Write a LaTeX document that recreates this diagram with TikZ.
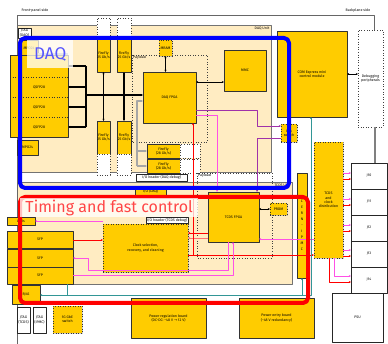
\documentclass[tikz,border=0pt]{standalone}
\usepackage{fontspec}
\setmainfont{Fira Sans}
\newfontfamily\symfont{DejaVu Sans}
\usetikzlibrary{shadows,arrows.meta}
\definecolor{gold}{RGB}{255,204,0}
\definecolor{beige}{RGB}{255,236,194}
\definecolor{lila}{RGB}{160,50,170}
\definecolor{rosa}{RGB}{255,80,230}
\definecolor{petrol}{RGB}{50,150,150}
\definecolor{daqblue}{RGB}{85,85,255}
\definecolor{tfcred}{RGB}{255,70,70}
\begin{document}
\begin{tikzpicture}[x=1pt,y=-1pt,>={Stealth[length=2.2pt,width=2pt]}, line join=round,
	font=\fontsize{3.6}{4.2}\selectfont,
	chip/.style={draw=black!80, fill=gold, line width=0.5pt, inner sep=0pt, outer sep=0pt, anchor=north west, align=center,
		drop shadow={shadow xshift=0.8pt, shadow yshift=-0.8pt, opacity=0.35}},
	dchip/.style={chip, dotted, line width=0.6pt},
	spare/.style={draw=black!75, dotted, line width=0.6pt, fill=white, inner sep=0pt, outer sep=0pt, anchor=north west, align=center},
	wbox/.style={draw=black!85, line width=0.6pt, fill=white, inner sep=0pt, outer sep=0pt, anchor=north west, align=center},
	unit/.style={draw=black!55, fill=beige, line width=0.6pt, inner sep=0pt, outer sep=0pt, anchor=north west},
	payload/.style={draw=black!75, dotted, line width=0.6pt},
	blk/.style={line width=1.2pt},
	gry/.style={draw=black!35, line width=1.2pt},
	lil/.style={draw=lila, line width=0.6pt},
	ros/.style={draw=rosa, line width=0.8pt},
	rd/.style={draw=red, line width=0.5pt}]
	\useasboundingbox (0,0) rectangle (388,344);
	% units and frame
	\node[unit, minimum width=254, minimum height=147] (daqunit) at (17,25) {};
	\node[anchor=north east, inner sep=1.5] at (daqunit.north east) {DAQ Unit};
	\node[unit, minimum width=275, minimum height=102] (tcdsunit) at (17,182) {};
	\node[anchor=north east, inner sep=1.5] at (tcdsunit.north east) {TCDS Unit};
	\draw[black!60, line width=0.6pt] (17,344) -- (17,15) -- (374,15) -- (374,30);
	\node[anchor=south west, inner sep=0.5] (fps) at (21,13) {Front-panel side};
	\node[anchor=south east, inner sep=0.5] (bps) at (371,13) {Backplane side};
	\draw[payload] (132,55) rectangle (207,142);
	\node[anchor=north west, inner sep=1] at (132,55) {Payload};
	\draw[payload] (197,173) rectangle (272,258);
	\node[anchor=north west, inner sep=1] at (197,173) {Payload};

	% DAQ side
	\node[wbox, minimum width=13, minimum height=10] (jtagdaq) at (18,28) {JTAG\\(DAQ)};
	\node[chip, minimum width=18, minimum height=16] (mpotop) at (20,40) {MPO24};
	\node[chip, draw=none, minimum width=58, minimum height=22] (qsfpa) at (10,55) {};
	\node[chip, draw=none, drop shadow={opacity=0}, minimum width=58, minimum height=20] (qsfpb) at (10,77) {QSFP28};
	\node[chip, draw=none, drop shadow={opacity=0}, minimum width=58, minimum height=20] (qsfpc) at (10,97) {QSFP28};
	\node[chip, draw=none, drop shadow={opacity=0}, minimum width=58, minimum height=20] (qsfpd) at (10,117) {QSFP28};
	\draw[black!80, line width=0.5pt] (qsfpa.north west) rectangle (qsfpd.south east);
	\foreach \q in {qsfpa,qsfpb,qsfpc}
		\draw[black!80, dotted, line width=0.6pt] (\q.south west) -- (\q.south east);
	\node[chip, minimum width=21, minimum height=15] (mpobot) at (17,140) {MPO24};
	\node[spare, minimum width=13, minimum height=20] (ffwa) at (97,18) {};
	\node[spare, minimum width=14, minimum height=20] (ffwb) at (117,18) {};
	\node[chip, minimum width=13, minimum height=34] (fftopa) at (97,38) {FireFly\\25 Gb/s};
	\node[chip, minimum width=14, minimum height=34] (fftopb) at (117,38) {FireFly\\25 Gb/s};
	\node[chip, minimum width=13, minimum height=33] (ffbota) at (97,121) {FireFly\\25 Gb/s};
	\node[chip, minimum width=14, minimum height=33] (ffbotb) at (117,121) {FireFly\\25 Gb/s};
	\node[spare, minimum width=13, minimum height=21] (ffwc) at (97,154) {};
	\node[spare, minimum width=14, minimum height=21] (ffwd) at (117,154) {};
	\node[dchip, minimum width=13, minimum height=16] (mram) at (159,40) {MRAM};
	\node[chip, minimum width=53, minimum height=51] (daqfpga) at (143,72) {DAQ FPGA};
	\node[chip, minimum width=42, minimum height=41] (mmc) at (224,50) {MMC};
	\node[chip, minimum width=33, minimum height=14] (ffxa) at (147,144) {FireFly\\(28 Gb/s)};
	\node[chip, minimum width=33, minimum height=14] (ffxb) at (147,159) {FireFly\\(28 Gb/s)};
	\node[spare, minimum width=20, minimum height=14] at (180,144) {};
	\node[spare, minimum width=20, minimum height=14] at (180,159) {};
	\node[wbox, minimum width=51, minimum height=7] (iodaq) at (136,174) {I/O header (DAQ debug)};
	\node[chip, minimum width=31, minimum height=11] (iodaqy) at (135,186) {I/O (DAQ)};
	\node[chip, minimum width=70, minimum height=86] (com) at (277,31) {COM Express mini\\control module};
	\node[spare, minimum width=25, minimum height=97] (dbg) at (358,30) {Debugging\\peripherals};
	\node[dchip, minimum width=16, minimum height=18] (ethsw) at (281,124) {Eth\\switch};

	% TCDS side
	\node[chip, minimum width=10, minimum height=105, font=\fontsize{3.6}{6}\selectfont] (ipmc) at (297,173) {C\\E\\R\\N\\-\\I\\P\\M\\C};
	\node[dchip, minimum width=29, minimum height=116] (tcdsclk) at (314,142) {TCDS\\and\\clock\\distribution};
	\foreach \j/\y in {10/163,11/189,12/215,13/241,14/267}
		\node[wbox, minimum width=36, minimum height=26] (j\j) at (351,\y) {J\j};
	\node[chip, minimum width=51, minimum height=50] (tcdsfpga) at (208,192) {TCDS FPGA};
	\node[dchip, minimum width=17, minimum height=12] (prom) at (270,203) {PROM};
	\node[dchip, minimum width=85, minimum height=48] (clocksel) at (103,224) {Clock selection,\\recovery, and cleaning};
	\node[wbox, minimum width=42, minimum height=6] (iotcds) at (146,217) {I/O header (TCDS debug)};
	\node[chip, minimum width=28, minimum height=8] (leds) at (7,217) {LEDs};
	\node[chip, minimum width=66, minimum height=17] (sfpa) at (7,231) {SFP};
	\node[chip, minimum width=66, minimum height=18] (sfpb) at (7,249) {SFP};
	\node[chip, minimum width=66, minimum height=17] (sfpc) at (7,267) {SFP};
	\node[chip, minimum width=28, minimum height=19] (rj45) at (12,285) {RJ45};
	\node[wbox, minimum width=13, minimum height=26] (jtagtcds) at (17,307) {JTAG\\(TCDS)};
	\node[wbox, minimum width=13, minimum height=26] (jtagipmc) at (33,307) {JTAG\\(IPMC)};
	\node[dchip, minimum width=29, minimum height=27] (gbesw) at (53,306) {1G GbE\\switch};
	\node[chip, minimum width=75, minimum height=40] (pwrreg) at (131,298) {Power regulation board\\(DC-DC: −48 V {\symfont →} 12 V)};
	\node[chip, minimum width=75, minimum height=40] (pwrent) at (239,298) {Power entry board\\(−48 V redundancy)};
	\node[wbox, minimum width=51, minimum height=49] (psu) at (332,293) {PSU};

	% connectors, DAQ side
	\coordinate (bus) at (86,95);
	\draw[blk] (bus |- qsfpa.east) -- (bus |- qsfpd.east);
	\foreach \q in {qsfpa,qsfpb,qsfpc,qsfpd}
		\draw[blk,->] (bus |- \q.east) -- (\q.east);
	\draw[blk,->] (bus) -- (daqfpga.west |- bus);
	\draw[blk,<->] (fftopa.south) -- (ffbota.north);
	\draw[blk,<->] (fftopb.south) -- (ffbotb.north);
	\draw[line width=0.6pt,<->] (mram.south) -- (daqfpga.north -| mram.south);
	\draw[line width=0.8pt,<->] (daqfpga.east |- 0,82) -- (mmc.west |- 0,82);
	\draw[line width=0.8pt,<->] (com.east |- 0,74) -- (dbg.west |- 0,74);
	\coordinate (grey) at (137,101);
	\draw[gry,->] (grey |- ffxb.west) -- (grey) -- (daqfpga.west |- grey);
	\draw[gry,->] (grey |- ffxa.west) -- (ffxa.west);
	\draw[gry,->] (grey |- ffxb.west) -- (ffxb.west);
	\draw[gry] (mpotop.east |- 0,54) -- (68,54);
	\draw[lil,->] (daqfpga.east |- 0,110) -- (257,110) -- (257,126) -- (ethsw.west |- 0,126);
	\draw[lil,->] (ethsw.west |- 0,138) -- (257,138) -- (tcdsfpga.north -| 257,0);
	\draw[ros,->] (daqfpga.east |- 0,115) -- (217,115) -- (tcdsfpga.north -| 217,0);
	\draw[black!50, line width=1.2pt] (dbg.south -| 375,0) -- (j10.north -| 375,0);
	% connectors, TCDS side
	\draw[rd,->] (sfpa.east |- 0,240) -- (clocksel.west |- 0,240);
	\draw[rd,->] (tcdsfpga.west |- 0,233) -- (clocksel.east |- 0,233);
	\draw[red!55, line width=0.9pt,->] (tcdsfpga.west |- 0,238) -- (clocksel.east |- 0,238);
	\draw[rd,->] (clocksel.east |- 0,255) -- (tcdsclk.west |- 0,255);
	\draw[rd,->] (193,255) -- (daqfpga.south -| 193,0);
	\draw[ros,->] (tcdsclk.west |- 0,239) -- (tcdsfpga.east |- 0,239);
	\draw[line width=0.6pt,<->] (tcdsfpga.east |- prom.west) -- (prom.west);
	\draw[ros,<-] (leds.east) -- (clocksel.west |- leds.east);
	\draw[ros,->] (tcdsfpga.south -| 228,0) -- (228,270) -- (88,270) -- (88,258) -- (sfpb.east |- 0,258);
	\draw[ros,->] (sfpc.east |- 0,275) -- (233,275) -- (tcdsfpga.south -| 233,0);
	\foreach \j/\ya/\yb in {10/173/179,11/199/205,12/225/231,13/250/256} {
		\draw[ros,->] (tcdsclk.east |- 0,\ya) -- (j\j.west |- 0,\ya);
		\draw[rd,->] (tcdsclk.east |- 0,\yb) -- (j\j.west |- 0,\yb);
	}
	\draw[ros,->] (tcdsclk.south -| 334,0) -- (334,276) -- (j14.west |- 0,276);
	\draw[rd,->] (tcdsclk.south -| 329,0) -- (329,282) -- (j14.west |- 0,282);
	\draw[petrol, line width=0.6pt,<->] (com.south -| 311,0) -- (311,295) -- (rj45.east |- 0,295);
	\draw[petrol, line width=0.6pt,->] (302,295) -- (ipmc.south -| 302,0);
	\draw[petrol, line width=0.6pt] (67,295) -- (sfpc.south -| 67,0);

	% highlighted areas
	\draw[blue, line width=4pt, rounded corners=5pt] (20,38) rectangle (289,188);
	\node[anchor=north west, fill=white, fill opacity=0.75, text opacity=1, minimum width=46, minimum height=28, inner sep=0,
		text=daqblue, font=\fontsize{17}{17}\selectfont] (daqtag) at (27,40) {DAQ};
	\draw[red, line width=4pt, rounded corners=5pt] (20,197) rectangle (308,303);
	\node[anchor=north west, fill=white, fill opacity=0.75, text opacity=1, minimum width=178, minimum height=19, inner sep=0,
		text=tfcred, font=\fontsize{16}{16}\selectfont] (tfctag) at (20,198) {Timing and fast control};
\end{tikzpicture}
\end{document}
